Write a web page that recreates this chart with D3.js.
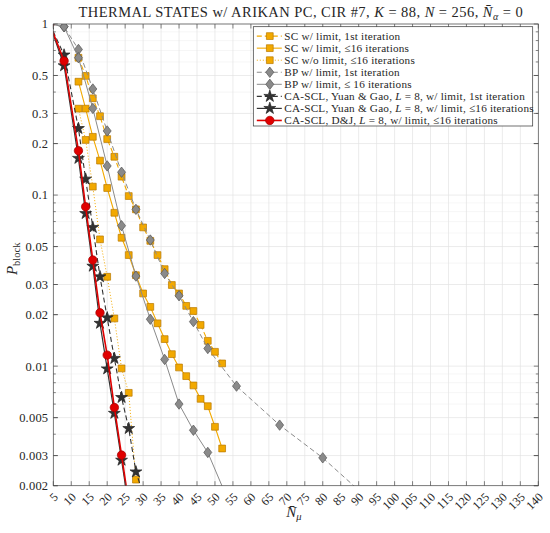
<!DOCTYPE html>
<html><head><meta charset="utf-8">
<script src="https://cdn.jsdelivr.net/npm/d3@7"></script>
<style>body{margin:0;background:#fff}svg{display:block}</style>
</head><body>
<div id="chart"></div>
<script>
// ---- data ----
const scFirstX = [12,14,16,18,20,22,24,26,28,30,32,34,36,38,40,42,44,46,48,50,52];
const scFirstY = [0.635,0.497,0.368,0.289,0.2126,0.1675,0.128,0.0987,0.0825,0.0647,0.054,0.0446,0.0369,0.0298,0.0266,0.0225,0.0210,0.0174,0.01406,0.01213,0.01037];
const scIterX = [12,14,16,18,20,22,24,26,28,30,32,34,36,38,40,42,44,46,48,50,52];
const scIterY = [0.46,0.32,0.219,0.159,0.110,0.0788,0.0563,0.0446,0.034,0.0266,0.0222,0.0178,0.01439,0.01175,0.00982,0.00874,0.00771,0.00644,0.00583,0.00442,0.00330];
const scNoLimX = [12,14,16,18,20,22,24,26,28];
const scNoLimY = [0.32,0.210,0.112,0.0551,0.0333,0.0190,0.0097,0.00698,0.00217];
const bpFirstX = [4,8,12,16,20,24,28,32,36,40,44,48,56,68,80,96];
const bpFirstY = [1,0.964,0.71,0.417,0.237,0.136,0.0825,0.0546,0.0348,0.0258,0.0182,0.01268,0.00764,0.00452,0.00291,0.00145];
const bpIterX = [4,8,12,16,20,24,28,32,36,40,44,48,56];
const bpIterY = [1,0.964,0.635,0.321,0.148,0.0662,0.0336,0.0188,0.01094,0.0060,0.00422,0.00313,0.00126];
const ygFirstX = [4,8,12,14,16,18,20,22,24,26,28,30];
const ygFirstY = [1,0.659,0.245,0.124,0.0647,0.0333,0.01917,0.0111,0.00656,0.00432,0.00241,0.0018];
const ygIterX = [4,8,12,14,16,18,20,22,24,26];
const ygIterY = [1,0.570,0.164,0.078,0.0384,0.0178,0.00964,0.0053,0.00282,0.0015];
const djX = [4,8,12,14,16,18,20,22,24,26];
const djY = [1,0.608,0.1816,0.0854,0.0417,0.0205,0.0116,0.00573,0.00302,0.00158];
const xTicks = d3.range(5,141,5);
const yTicks = [0.002,0.003,0.005,0.01,0.02,0.03,0.05,0.1,0.2,0.3,0.5,1];
const yTickLabels = ["0.002","0.003","0.005","0.01","0.02","0.03","0.05","0.1","0.2","0.3","0.5","1"];
const legendLabels = [
  [{t:"SC w/ limit, 1st iteration"}],
  [{t:"SC w/ limit, \u226416 iterations"}],
  [{t:"SC w/o limit, \u226416 iterations"}],
  [{t:"BP w/ limit, 1st iteration"}],
  [{t:"BP w/ limit, \u2264 16 iterations"}],
  [{t:"CA-SCL, Yuan & Gao, "},{t:"L",i:1},{t:" = 8, w/ limit, 1st iteration"}],
  [{t:"CA-SCL, Yuan & Gao, "},{t:"L",i:1},{t:" = 8, w/ limit, \u226416 iterations"}],
  [{t:"CA-SCL, D&J, "},{t:"L",i:1},{t:" = 8, w/ limit, \u226416 iterations"}]
];

// ---- styles ----
const ORANGE = "#f2a900", ORANGE_E = "#b87800";
const GRAY = "#8a8a8a", GRAY_E = "#555";
const BLACK = "#333";
const RED = "#e00000";
const series = [
  {x:scFirstX,y:scFirstY,color:ORANGE,dash:"5,3",mk:"square",fill:ORANGE,edge:ORANGE_E,w:1.1},
  {x:scIterX,y:scIterY,color:ORANGE,dash:null,mk:"square",fill:ORANGE,edge:ORANGE_E,w:1.1},
  {x:scNoLimX,y:scNoLimY,color:ORANGE,dash:"1,2",mk:"square",fill:ORANGE,edge:ORANGE_E,w:1},
  {x:bpFirstX,y:bpFirstY,color:GRAY,dash:"5,3",mk:"diamond",fill:GRAY,edge:GRAY_E,w:1},
  {x:bpIterX,y:bpIterY,color:GRAY,dash:null,mk:"diamond",fill:GRAY,edge:GRAY_E,w:1},
  {x:ygFirstX,y:ygFirstY,color:BLACK,dash:"5,3",mk:"star",fill:BLACK,edge:"#222",w:1.1},
  {x:ygIterX,y:ygIterY,color:BLACK,dash:null,mk:"star",fill:BLACK,edge:"#222",w:1.2},
  {x:djX,y:djY,color:RED,dash:null,mk:"circle",fill:RED,edge:"#a00000",w:1.6}
];

const W=550,H=533;
const L=53.3,R=538.3,T=24,B=485.7;
const x = d3.scaleLinear().domain([5,140]).range([L,R]);
const y = d3.scaleLog().domain([0.002,1]).range([B,T]);
const serif = "'Liberation Serif','Times New Roman',serif";

const svg = d3.select("#chart").append("svg").attr("width",W).attr("height",H)
  .style("font-family",serif);
svg.append("rect").attr("width",W).attr("height",H).attr("fill","#fff");

// grid
const minorY=[];
[0.001,0.01,0.1].forEach(d=>{for(let k=2;k<=9;k++){const v=d*k;if(v>=0.002&&v<=1)minorY.push(v);}});
const g = svg.append("g");
g.selectAll(".my").data(minorY.filter(v=>!yTicks.some(t=>Math.abs(t-v)<1e-9))).enter().append("line")
  .attr("x1",L).attr("x2",R).attr("y1",d=>y(d)).attr("y2",d=>y(d))
  .attr("stroke","#f0f0f0").attr("stroke-width",0.6);
g.selectAll(".gy").data(yTicks).enter().append("line")
  .attr("x1",L).attr("x2",R).attr("y1",d=>y(d)).attr("y2",d=>y(d))
  .attr("stroke","#e3e3e3").attr("stroke-width",0.7);
g.selectAll(".gx").data(xTicks).enter().append("line")
  .attr("y1",T).attr("y2",B).attr("x1",d=>x(d)).attr("x2",d=>x(d))
  .attr("stroke","#e3e3e3").attr("stroke-width",0.7);

// clip
svg.append("clipPath").attr("id","clip").append("rect")
  .attr("x",L).attr("y",T).attr("width",R-L).attr("height",B-T);
const plot = svg.append("g").attr("clip-path","url(#clip)");

const line = d3.line().x(d=>x(d[0])).y(d=>y(d[1]));
const symbolFor = {
  square: d3.symbol().type(d3.symbolSquare).size(46),
  diamond: ()=>"M0,-5.2L4,0L0,5.2L-4,0Z",
  star: d3.symbol().type(d3.symbolStar).size(44),
  circle: d3.symbol().type(d3.symbolCircle).size(56)
};
function marker(sel,s){
  sel.append("path").attr("d",symbolFor[s.mk]())
    .attr("fill",s.fill).attr("stroke",s.edge).attr("stroke-width",0.7);
}
series.forEach(s=>{
  const pts = s.x.map((v,i)=>[v,s.y[i]]);
  plot.append("path").datum(pts).attr("d",line).attr("fill","none")
    .attr("stroke",s.color).attr("stroke-width",s.w)
    .attr("stroke-dasharray",s.dash);
  const m = plot.selectAll(null).data(pts).enter().append("g")
    .attr("transform",d=>`translate(${x(d[0])},${y(d[1])})`);
  m.each(function(){marker(d3.select(this),s);});
});

// axes box & ticks
const ax = svg.append("g").attr("stroke","#4d4d4d").attr("stroke-width",0.7);
ax.append("rect").attr("x",L).attr("y",T).attr("width",R-L).attr("height",B-T).attr("fill","none");
xTicks.forEach(t=>{
  ax.append("line").attr("x1",x(t)).attr("x2",x(t)).attr("y1",B).attr("y2",B-4.5);
  ax.append("line").attr("x1",x(t)).attr("x2",x(t)).attr("y1",T).attr("y2",T+4.5);
});
minorY.concat(yTicks).forEach(t=>{
  const len = yTicks.includes(t)?4.5:2.5;
  ax.append("line").attr("y1",y(t)).attr("y2",y(t)).attr("x1",L).attr("x2",L+len);
  ax.append("line").attr("y1",y(t)).attr("y2",y(t)).attr("x1",R).attr("x2",R-len);
});

// tick labels
svg.append("g").selectAll("text").data(yTicks).enter().append("text")
  .attr("x",L-5).attr("y",d=>y(d)).attr("dy","0.35em").attr("text-anchor","end")
  .attr("font-size","12.5px").attr("letter-spacing","0.2px").attr("fill","#262626").text((d,i)=>yTickLabels[i]);
svg.append("g").selectAll("text").data(xTicks).enter().append("text")
  .attr("transform",d=>`translate(${x(d)+2.5},${B+9}) rotate(-45)`)
  .attr("dy","0.35em").attr("text-anchor","end")
  .attr("font-size","12px").attr("fill","#262626").text(d=>d);

// title
const title = svg.append("text").attr("x",(L+R)/2+5).attr("y",16.5).attr("text-anchor","middle")
  .attr("font-size","14.5px").attr("letter-spacing","0.45px").attr("fill","#262626");
title.append("tspan").text("THERMAL STATES w/ ARIKAN PC, CIR #7, ");
title.append("tspan").attr("font-style","italic").text("K");
title.append("tspan").text(" = 88, ");
title.append("tspan").attr("font-style","italic").text("N");
title.append("tspan").text(" = 256, ");
title.append("tspan").attr("font-style","italic").text("N\u0304");
title.append("tspan").attr("font-style","italic").attr("font-size","10px").attr("dy","3").text("\u03b1");
title.append("tspan").attr("dy","-3").text(" = 0");

// y label
const yl = svg.append("text").attr("transform",`translate(17,${(T+B)/2+4}) rotate(-90)`)
  .attr("text-anchor","middle").attr("font-size","15px").attr("fill","#262626");
yl.append("tspan").attr("font-style","italic").text("P");
yl.append("tspan").attr("font-size","10.5px").attr("dy","3").text("block");

// x label
const xl = svg.append("text").attr("x",(L+R)/2-2).attr("y",517).attr("text-anchor","middle")
  .attr("font-size","15px").attr("fill","#262626");
xl.append("tspan").attr("font-style","italic").text("N\u0304");
xl.append("tspan").attr("font-style","italic").attr("font-size","10.5px").attr("dy","3").text("\u03bc");

// legend
const lg = svg.append("g");
const lx=253.3, ly=26.7, lw=279.4, lh=99.3, rowH=12.05;
lg.append("rect").attr("x",lx).attr("y",ly).attr("width",lw).attr("height",lh)
  .attr("fill","#fff").attr("stroke","#333").attr("stroke-width",0.7);
series.forEach((s,i)=>{
  const cy = ly+9.4+i*rowH;
  lg.append("line").attr("x1",lx+3.5).attr("x2",lx+28.5).attr("y1",cy).attr("y2",cy)
    .attr("stroke",s.color).attr("stroke-width",s.w).attr("stroke-dasharray",s.dash);
  const m = lg.append("g").attr("transform",`translate(${lx+16.5},${cy})`);
  marker(m,s);
  const t = lg.append("text").attr("x",lx+31).attr("y",cy).attr("dy","0.33em")
    .attr("font-size","11.2px").attr("letter-spacing","0.22px").attr("fill","#262626");
  legendLabels[i].forEach(p=>{
    const ts=t.append("tspan").text(p.t);
    if(p.i) ts.attr("font-style","italic");
  });
});
</script>
</body></html>
